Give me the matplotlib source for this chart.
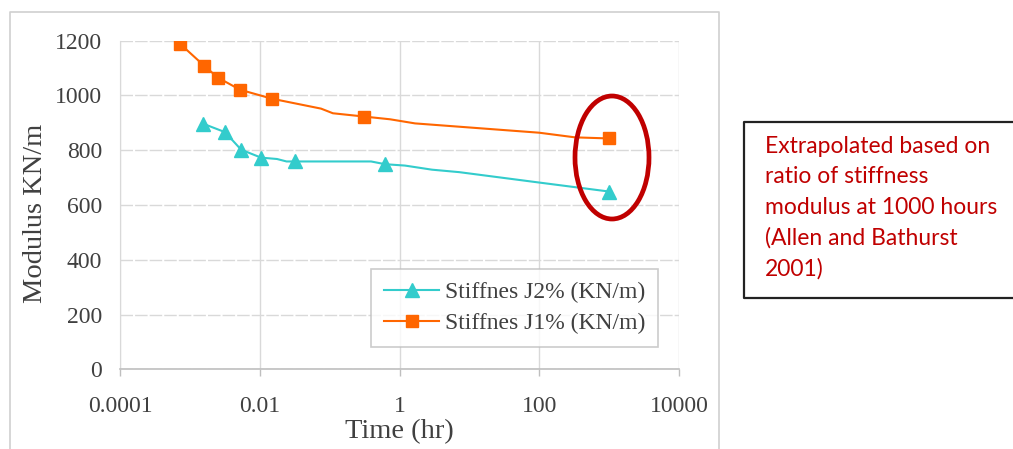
import matplotlib.pyplot as plt
from matplotlib.patches import Ellipse
from matplotlib.lines import Line2D
from matplotlib.ticker import NullLocator

# time (hr) and stiffness modulus (kN/m); markers only on the measured points
t_j1 = [0.00072, 0.00159, 0.00252, 0.0052, 0.015, 0.075, 0.111, 0.31, 0.73, 1.66, 99, 323, 1000]
s_j1 = [1189, 1109, 1065, 1021, 988, 952, 935, 923, 913, 898, 864, 847, 843]
mark_j1 = [0, 1, 2, 3, 4, 7, 12]

t_j2 = [0.00154, 0.00318, 0.0054, 0.0104, 0.0176, 0.0241, 0.0319, 0.39, 0.618, 1.19, 2.9, 7.1, 99, 1000]
s_j2 = [897, 866, 802, 773, 768, 759, 759, 759, 749, 744, 729, 720, 682, 649]
mark_j2 = [0, 1, 2, 3, 6, 8, 13]

xticks = [1e-4, 1e-2, 1, 1e2, 1e4]
xtick_labels = ["0.0001", "0.01", "1", "100", "10000"]
yticks = [0, 200, 400, 600, 800, 1000, 1200]

note = "Extrapolated based on\nratio of stiffness\nmodulus at 1000 hours\n(Allen and Bathurst\n2001)"

W, H = 1013, 449
fig = plt.figure(figsize=(W / 100, H / 100), dpi=100)
plt.rcParams['font.family'] = ['Liberation Serif', 'DejaVu Serif']
txt = '#404040'
grid = '#D9D9D9'

ax = fig.add_axes([120 / W, 1 - 369.3 / H, 559.3 / W, 328.6 / H])
ax.set_xscale('log')
ax.set_xlim(1e-4, 1e4)
ax.set_ylim(0, 1200)

ax.plot(t_j2, s_j2, color='#33CCCC', lw=1.5, marker='^', ms=9.5,
        markevery=mark_j2, label='Stiffnes J2% (KN/m)', zorder=3)
ax.plot(t_j1, s_j1, color='#FF6600', lw=1.5, marker='s', ms=8.5,
        markevery=mark_j1, label='Stiffnes J1% (KN/m)', zorder=3)

ax.set_xticks(xticks)
ax.set_xticklabels(xtick_labels)
ax.xaxis.set_minor_locator(NullLocator())
ax.set_yticks(yticks)
ax.tick_params(axis='x', length=5, width=1, color='#BFBFBF', pad=14,
               labelsize=17, labelcolor=txt)
ax.tick_params(axis='y', length=0, pad=13, labelsize=17, labelcolor=txt)

ax.grid(axis='y', color=grid, lw=1, ls=(0, (9, 1.5)))
ax.grid(axis='x', color=grid, lw=1)
ax.set_axisbelow(True)
for s in ['top', 'right']:
    ax.spines[s].set_visible(False)
ax.spines['left'].set_color(grid)
ax.spines['bottom'].set_color('#BFBFBF')
ax.spines['bottom'].set_linewidth(1.2)

ax.set_ylabel('Modulus KN/m', fontsize=20.5, color=txt)
ax.yaxis.set_label_coords(-0.128, 0.473)
ax.set_xlabel('Time (hr)', fontsize=20.5, color=txt, labelpad=2)

leg = ax.legend(loc='lower right', bbox_to_anchor=(538 / 559.3, 22.3 / 328.6),
                fontsize=17, frameon=True, fancybox=False, handlelength=2.3,
                borderpad=0.55, labelspacing=0.4, handletextpad=0.25,
                borderaxespad=0)
leg.get_frame().set_edgecolor('#BFBFBF')
leg.get_frame().set_linewidth(1.2)
for t in leg.get_texts():
    t.set_color(txt)

# red ring around the 1000 hour values
ax.add_patch(Ellipse((612 / W, 1 - 157.5 / H), 74 / W, 123 / H,
                     transform=fig.transFigure, fill=False,
                     edgecolor='#C00000', lw=3.4, zorder=5, clip_on=False))

# chart area outline
fig.add_artist(Line2D([10 / W, 10 / W, 719 / W, 719 / W], [0, 1 - 12 / H, 1 - 12 / H, 0],
                      transform=fig.transFigure, color='#D0D0D0', lw=1.2))

# note box
fig.add_artist(Line2D([1.01, 744 / W, 744 / W, 1.01],
                      [1 - 122.3 / H, 1 - 122.3 / H, 1 - 298.3 / H, 1 - 298.3 / H],
                      transform=fig.transFigure, color='#222222', lw=1.6))
fig.text(765 / W, 1 - 136 / H, note, ha='left', va='top', fontsize=16.5,
         family=['Lato', 'DejaVu Sans'], color='#C00000', linespacing=1.55)

fig.savefig('out.png', dpi=100)
